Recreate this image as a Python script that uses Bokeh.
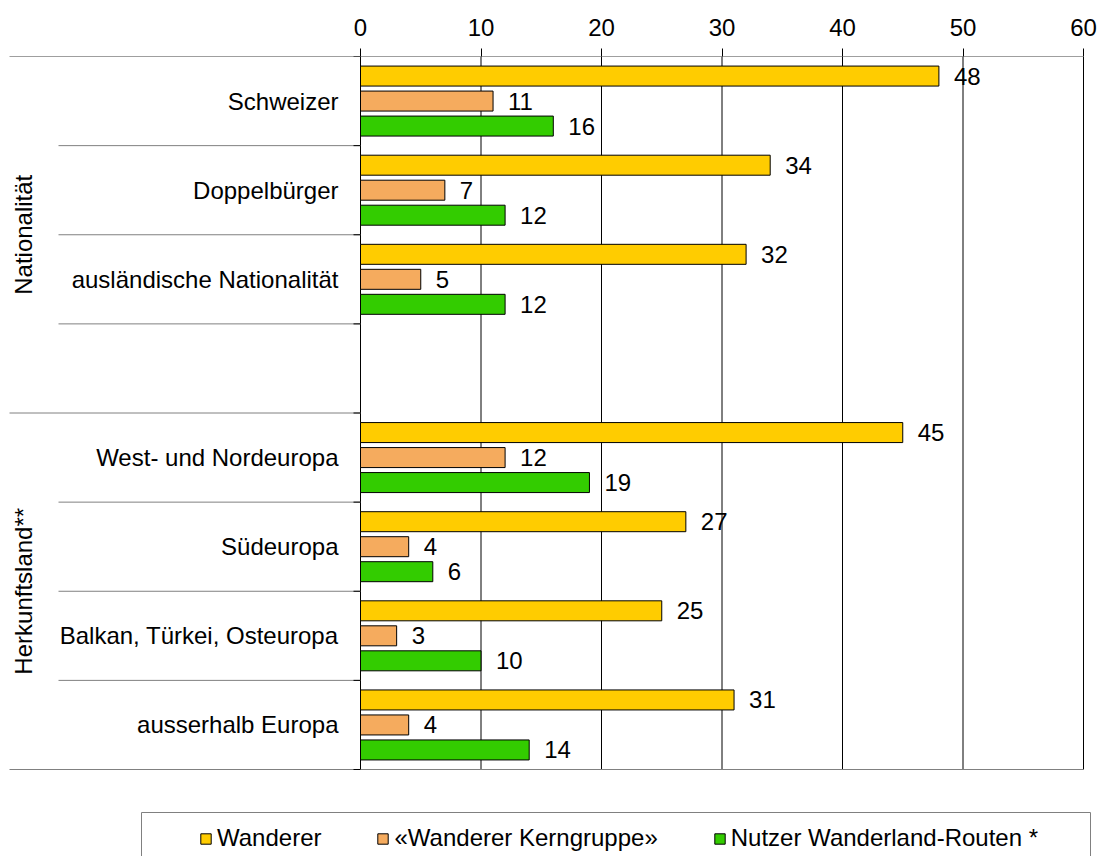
from bokeh.plotting import figure
from bokeh.models import Range1d, FixedTicker, Legend, LegendItem, ColumnDataSource
from bokeh.core.properties import value
from bokeh.embed import file_html
from bokeh.resources import INLINE

# ---------------- data ----------------
categories = ["Schweizer", "Doppelbürger", "ausländische Nationalität", "",
              "West- und Nordeuropa", "Südeuropa", "Balkan, Türkei, Osteuropa", "ausserhalb Europa"]
groups = ["Nationalität", "Herkunftsland**"]
series_names = ["Wanderer", "«Wanderer Kerngruppe»", "Nutzer Wanderland-Routen *"]
wanderer = [48, 34, 32, None, 45, 27, 25, 31]
kerngruppe = [11, 7, 5, None, 12, 4, 3, 4]
nutzer = [16, 12, 12, None, 19, 6, 10, 14]
x_ticks = [0, 10, 20, 30, 40, 50, 60]

colors = ["#FFCC00", "#F5AB5E", "#33CC00"]
FONT = value("Liberation Sans")
FS = value("24px")

# ---------------- layout constants (page pixels) ----------------
W, H = 1099, 856
X0_PX, X60_PX = 360, 1083          # page px of 0 and 60
PPU = (X60_PX - X0_PX) / 60.0
ROW_TOP, ROW_BOT = 56, 769
ROW_H = (ROW_BOT - ROW_TOP) / 8.0

def dx(px):
    return (px - X0_PX) / PPU

def dy(py):
    return (py - ROW_TOP) / ROW_H

x_start = dx(0)
x_end = dx(W)
y_bottom = dy(H)

p = figure(width=W, height=H, output_backend="svg", toolbar_location=None,
           x_range=Range1d(x_start, x_end), y_range=Range1d(y_bottom, 0),
           x_axis_location="above", y_axis_location=None,
           min_border_left=0, min_border_right=0, min_border_top=ROW_TOP, min_border_bottom=0)
p.outline_line_color = None
p.grid.visible = False
p.background_fill_color = "white"

ax = p.xaxis[0]
ax.ticker = FixedTicker(ticks=x_ticks)
ax.axis_line_alpha = 0
ax.major_tick_out = 8
ax.major_tick_in = 0
ax.minor_tick_out = 0
ax.minor_tick_in = 0
ax.major_tick_line_color = "black"
ax.major_label_text_font = "Liberation Sans"
ax.major_label_text_font_size = "24px"
ax.major_label_text_color = "black"
ax.major_label_standoff = 13

# vertical grid lines (from ticks)
p.segment(x0=x_ticks, y0=[0] * len(x_ticks), x1=x_ticks, y1=[8] * len(x_ticks),
          line_color="black", line_width=1)

# top & bottom horizontal lines across everything
left_far = dx(9)
left_near = dx(58)
p.segment(x0=[left_far], y0=[0], x1=[60], y1=[0], line_color="#404040", line_width=1)
p.segment(x0=[left_far], y0=[8], x1=[60], y1=[8], line_color="#808080", line_width=1)
# row separators
long_b = [4]
short_b = [1, 2, 3, 5, 6, 7]
p.segment(x0=[left_far] * len(long_b), y0=long_b, x1=[0] * len(long_b), y1=long_b,
          line_color="#808080", line_width=1)
p.segment(x0=[left_near] * len(short_b), y0=short_b, x1=[0] * len(short_b), y1=short_b,
          line_color="#808080", line_width=1)
all_b = list(range(9))
p.segment(x0=[dx(353)] * len(all_b), y0=all_b, x1=[0] * len(all_b), y1=all_b,
          line_color="black", line_width=1)

# bars
offsets = [-25 / ROW_H, 0, 25 / ROW_H]
bar_h = 20 / ROW_H
renderers = []
for k, (vals, col) in enumerate(zip([wanderer, kerngruppe, nutzer], colors)):
    ys = [i + 0.5 + offsets[k] for i, v in enumerate(vals) if v is not None]
    xs = [v for v in vals if v is not None]
    src = ColumnDataSource(dict(y=ys, right=xs, label=[str(v) for v in xs]))
    r = p.hbar(y="y", left=0, right="right", height=bar_h, source=src,
               fill_color=col, line_color="black", line_width=1)
    renderers.append(r)
    p.text(x="right", y="y", text="label", source=src, x_offset=15,
           text_font=FONT, text_font_size=FS, text_color="black",
           text_align="left", text_baseline="middle")

# category labels
cat_src = ColumnDataSource(dict(x=[dx(338)] * len(categories),
                                y=[i + 0.5 for i in range(len(categories))],
                                t=categories))
p.text(x="x", y="y", text="t", source=cat_src, text_font=FONT, text_font_size=FS,
       text_color="black", text_align="right", text_baseline="middle")

# group labels (rotated)
p.text(x=[dx(23)] * 2, y=[2, 6], text=groups, angle=1.5707963,
       text_font=FONT, text_font_size=FS, text_color="black",
       text_align="center", text_baseline="middle")

# legend box
p.quad(left=[dx(141)], right=[dx(1090)], top=[dy(812)], bottom=[dy(900)],
       fill_color=None, line_color="#808080", line_width=1)

legend = Legend(items=[LegendItem(label=n, renderers=[r]) for n, r in zip(series_names, renderers)],
                orientation="horizontal", location=(199, 4),
                glyph_width=13, glyph_height=13, label_standoff=5, spacing=55,
                padding=0, margin=0, border_line_alpha=0, background_fill_alpha=0,
                label_text_font="Liberation Sans", label_text_font_size="24px",
                label_text_color="black", label_text_baseline="middle")
p.add_layout(legend)

open("out.html", "w").write(file_html(p, INLINE))
